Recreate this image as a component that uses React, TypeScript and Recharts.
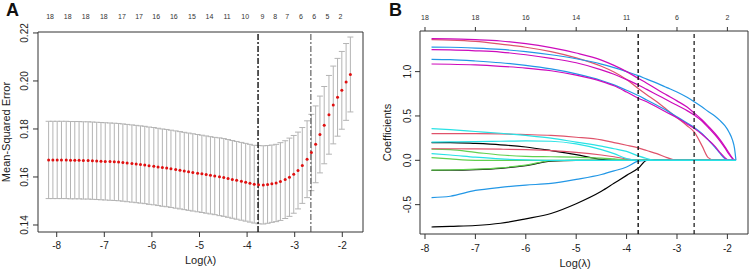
import { ComposedChart, LineChart, Line, Scatter, ErrorBar, XAxis, YAxis, ReferenceLine, ReferenceArea } from "recharts";

const FONT = "'Liberation Sans', Arial, Helvetica, sans-serif";

// ---- Panel A: cross-validated error ----
const cvLogLambda = [
  -8.17, -8.08, -7.99, -7.90, -7.80, -7.71, -7.62, -7.53, -7.44, -7.34,
  -7.25, -7.16, -7.07, -6.98, -6.88, -6.79, -6.70, -6.61, -6.52, -6.42,
  -6.33, -6.24, -6.15, -6.06, -5.96, -5.87, -5.78, -5.69, -5.60, -5.50,
  -5.41, -5.32, -5.23, -5.14, -5.04, -4.95, -4.86, -4.77, -4.68, -4.58,
  -4.49, -4.40, -4.31, -4.22, -4.12, -4.03, -3.94, -3.85, -3.76, -3.66,
  -3.57, -3.48, -3.39, -3.30, -3.20, -3.11, -3.02, -2.93, -2.84, -2.74,
  -2.65, -2.56, -2.47, -2.38, -2.28, -2.19, -2.10, -2.01, -1.92, -1.83,
];
const cvMse = [
  0.1671, 0.1671, 0.1671, 0.1671, 0.1671, 0.1670, 0.1670, 0.1670, 0.1669, 0.1669,
  0.1668, 0.1667, 0.1666, 0.1665, 0.1664, 0.1663, 0.1662, 0.1660, 0.1658, 0.1656,
  0.1654, 0.1652, 0.1650, 0.1647, 0.1645, 0.1642, 0.1639, 0.1637, 0.1634, 0.1631,
  0.1628, 0.1625, 0.1622, 0.1619, 0.1616, 0.1613, 0.1610, 0.1607, 0.1604, 0.1601,
  0.1598, 0.1594, 0.1590, 0.1586, 0.1582, 0.1578, 0.1574, 0.1570, 0.1568, 0.1567,
  0.1569, 0.1572, 0.1575, 0.1581, 0.1589, 0.1599, 0.1611, 0.1627, 0.1648, 0.1674,
  0.1702, 0.1736, 0.1777, 0.1816, 0.1859, 0.1900, 0.1932, 0.1961, 0.1996, 0.2027,
];
const cvSd = [
  0.0161, 0.0161, 0.0161, 0.0161, 0.0161, 0.0161, 0.0161, 0.0161, 0.0161, 0.0161,
  0.0161, 0.0161, 0.0161, 0.0161, 0.0161, 0.0161, 0.0161, 0.0161, 0.0161, 0.0161,
  0.0161, 0.0161, 0.0161, 0.0161, 0.0161, 0.0161, 0.0161, 0.0161, 0.0161, 0.0161,
  0.0161, 0.0161, 0.0161, 0.0161, 0.0161, 0.0161, 0.0161, 0.0161, 0.0161, 0.0162,
  0.0162, 0.0162, 0.0162, 0.0162, 0.0162, 0.0162, 0.0162, 0.0162, 0.0163, 0.0163,
  0.0162, 0.0161, 0.0161, 0.0162, 0.0162, 0.0163, 0.0162, 0.0160, 0.0158, 0.0160,
  0.0159, 0.0160, 0.0160, 0.0161, 0.0164, 0.0162, 0.0162, 0.0162, 0.0160, 0.0156,
];
const cvTopTicks = [
  -8.14, -7.77, -7.39, -7.01, -6.63, -6.27, -5.91, -5.54, -5.16, -4.79,
  -4.42, -4.04, -3.68, -3.41, -3.16, -2.87, -2.59, -2.31, -2.04,
];
const cvTopLabels = ["18", "18", "18", "18", "17", "17", "16", "16", "15", "14", "11", "10", "9", "8", "7", "6", "6", "5", "2"];
const cvXTicks = [-8, -7, -6, -5, -4, -3, -2];
const cvYTicks = [0.14, 0.16, 0.18, 0.2, 0.22];
const lambdaMin = -3.77;
const lambda1se = -2.66;

// ---- Panel B: coefficient paths ----
const pathLogLambda = [
  -7.87, -7.5, -7.0, -6.5, -6.0, -5.5, -5.0, -4.5, -4.25, -4.0,
  -3.77, -3.6, -3.4, -3.2, -3.0, -2.8, -2.66, -2.5, -2.38, -2.25,
  -2.15, -2.05, -1.97, -1.9, -1.86, -1.83,
];
const coefT1 = [1.372, 1.370, 1.360, 1.345, 1.315, 1.270, 1.210, 1.130, 1.070, 1.000, 0.925, 0.870, 0.800, 0.735, 0.670, 0.600, 0.535, 0.455, 0.385, 0.305, 0.235, 0.155, 0.085, 0.025, 0, 0];
const coefT2 = [1.277, 1.275, 1.265, 1.250, 1.225, 1.190, 1.145, 1.085, 1.045, 1.000, 0.955, 0.915, 0.870, 0.820, 0.770, 0.710, 0.660, 0.600, 0.550, 0.500, 0.450, 0.390, 0.320, 0.230, 0.140, 0];
const coefT3 = [1.360, 1.355, 1.340, 1.310, 1.275, 1.225, 1.155, 1.060, 0.995, 0.910, 0.810, 0.740, 0.660, 0.570, 0.480, 0.390, 0.320, 0.160, 0.030, 0, 0, 0, 0, 0, 0, 0];
const coefT4 = [1.248, 1.245, 1.235, 1.220, 1.190, 1.150, 1.100, 1.020, 0.970, 0.910, 0.850, 0.800, 0.740, 0.680, 0.620, 0.560, 0.510, 0.440, 0.370, 0.290, 0.220, 0.140, 0.070, 0.020, 0, 0];
const coefT5 = [1.139, 1.135, 1.120, 1.100, 1.070, 1.030, 0.975, 0.900, 0.850, 0.790, 0.730, 0.680, 0.620, 0.560, 0.490, 0.420, 0.370, 0.300, 0.230, 0.150, 0.080, 0.020, 0, 0, 0, 0];
const coefT6 = [1.086, 1.083, 1.075, 1.060, 1.040, 1.010, 0.960, 0.890, 0.840, 0.770, 0.700, 0.660, 0.600, 0.540, 0.480, 0.410, 0.360, 0.290, 0.230, 0.160, 0.090, 0.030, 0, 0, 0, 0];
const coefL1 = [0.357, 0.345, 0.325, 0.305, 0.280, 0.250, 0.205, 0.160, 0.130, 0.100, 0.050, 0.020, 0, 0, 0, 0, 0, 0, 0, 0, 0, 0, 0, 0, 0, 0];
const coefL2 = [0.300, 0.300, 0.300, 0.298, 0.290, 0.280, 0.260, 0.230, 0.200, 0.170, 0.140, 0.110, 0.075, 0.030, 0, 0, 0, 0, 0, 0, 0, 0, 0, 0, 0, 0];
const coefL3 = [0.205, 0.207, 0.210, 0.215, 0.220, 0.215, 0.185, 0.120, 0.075, 0.020, 0, 0, 0, 0, 0, 0, 0, 0, 0, 0, 0, 0, 0, 0, 0, 0];
const coefL4 = [0.200, 0.200, 0.190, 0.175, 0.150, 0.110, 0.065, 0.010, 0, 0, 0, 0, 0, 0, 0, 0, 0, 0, 0, 0, 0, 0, 0, 0, 0, 0];
const coefL5 = [0.130, 0.130, 0.128, 0.125, 0.120, 0.110, 0.090, 0.060, 0.040, 0.015, 0, 0, 0, 0, 0, 0, 0, 0, 0, 0, 0, 0, 0, 0, 0, 0];
const coefL6 = [0.125, 0.120, 0.090, 0.060, 0.045, 0.040, 0.035, 0.025, 0.015, 0.005, 0, 0, 0, 0, 0, 0, 0, 0, 0, 0, 0, 0, 0, 0, 0, 0];
const coefL7 = [0.075, 0.060, 0.035, 0.015, 0.005, 0, 0, 0, 0, 0, 0, 0, 0, 0, 0, 0, 0, 0, 0, 0, 0, 0, 0, 0, 0, 0];
const coefL8 = [-0.113, -0.112, -0.105, -0.090, -0.060, -0.010, 0, 0, 0, 0, 0, 0, 0, 0, 0, 0, 0, 0, 0, 0, 0, 0, 0, 0, 0, 0];
const coefL9 = [-0.110, -0.108, -0.100, -0.085, -0.055, -0.005, 0, 0, 0, 0, 0, 0, 0, 0, 0, 0, 0, 0, 0, 0, 0, 0, 0, 0, 0, 0];
const coefL10 = [-0.420, -0.405, -0.340, -0.305, -0.280, -0.260, -0.215, -0.160, -0.120, -0.075, -0.010, 0, 0, 0, 0, 0, 0, 0, 0, 0, 0, 0, 0, 0, 0, 0];
const coefL11 = [-0.752, -0.745, -0.735, -0.710, -0.660, -0.600, -0.490, -0.350, -0.260, -0.170, -0.090, 0, 0, 0, 0, 0, 0, 0, 0, 0, 0, 0, 0, 0, 0, 0];
const coefL12 = [0.030, 0.015, 0, 0, 0, 0, 0, 0, 0, 0, 0, 0, 0, 0, 0, 0, 0, 0, 0, 0, 0, 0, 0, 0, 0, 0];
const pathXTicks = [-8, -7, -6, -5, -4, -3, -2];
const pathTopLabels = ["18", "18", "16", "14", "11", "6", "2"];
const pathYTicks = [-0.5, 0, 0.5, 1];

const BLACK = "#000000";
const PINK = "#DF536B";
const GREEN = "#61D04F";
const BLUE = "#2297E6";
const CYAN = "#28E2E5";
const MAGENTA = "#CD0BBC";

// drawing order: later entries end up on top
const pathSeries = [
  { key: "l11", color: BLACK, values: coefL11 },
  { key: "l8", color: BLACK, values: coefL8 },
  { key: "l9", color: GREEN, values: coefL9 },
  { key: "l4", color: BLACK, values: coefL4 },
  { key: "l6", color: GREEN, values: coefL6 },
  { key: "l12", color: GREEN, values: coefL12 },
  { key: "l5", color: PINK, values: coefL5 },
  { key: "l2", color: PINK, values: coefL2 },
  { key: "t3", color: PINK, values: coefT3 },
  { key: "l10", color: BLUE, values: coefL10 },
  { key: "t5", color: BLUE, values: coefT5 },
  { key: "t2", color: BLUE, values: coefT2 },
  { key: "t6", color: MAGENTA, values: coefT6 },
  { key: "t4", color: MAGENTA, values: coefT4 },
  { key: "t1", color: MAGENTA, values: coefT1 },
  { key: "l7", color: CYAN, values: coefL7 },
  { key: "l3", color: CYAN, values: coefL3 },
  { key: "l1", color: CYAN, values: coefL1 },
];

const cvData = cvLogLambda.map((x, i) => ({ x, mse: cvMse[i], err: cvSd[i] }));
const pathData = pathLogLambda.map((x, i) => {
  const row: Record<string, number> = { x };
  pathSeries.forEach((s) => (row[s.key] = s.values[i]));
  return row;
});

const A_X: [number, number] = [-8.393, -1.565];
const A_Y: [number, number] = [0.13708, 0.2204];
const B_X: [number, number] = [-8.099, -1.591];
const B_Y: [number, number] = [-0.831, 1.458];

const INK = "#222";

const BottomTick = (props: any) => {
  const { x, y, payload, off } = props;
  return (
    <text x={x} y={y + off} textAnchor="middle" fontSize={10} fontFamily={FONT} fill={INK}>
      {String(payload.value)}
    </text>
  );
};

const LeftTick = (props: any) => {
  const { x, y, payload, off, digits } = props;
  const tx = x + off;
  return (
    <text x={tx} y={y} transform={`rotate(-90, ${tx}, ${y})`} textAnchor="middle" fontSize={10} fontFamily={FONT} fill={INK}>
      {Number(payload.value).toFixed(digits)}
    </text>
  );
};

const TopTick = (props: any) => {
  const { x, y, payload, off, ticks, labels } = props;
  const i = ticks.indexOf(payload.value);
  return (
    <text x={x} y={y + off} textAnchor="middle" fontSize={7} fontFamily={FONT} fill="#333">
      {i >= 0 ? labels[i] : ""}
    </text>
  );
};

const xTitle = (dx: number, dy: number) => (props: any) => {
  const vb = props.viewBox;
  return (
    <text x={vb.x + vb.width / 2 + dx} y={vb.y + dy} textAnchor="middle" fontSize={11} fontFamily={FONT} fill={INK}>
      Log(λ)
    </text>
  );
};

const yTitle = (text: string, bx: number) => (props: any) => {
  const vb = props.viewBox;
  const cy = vb.y + vb.height / 2;
  return (
    <text x={bx} y={cy} transform={`rotate(-90, ${bx}, ${cy})`} textAnchor="middle" fontSize={11} fontFamily={FONT} fill={INK}>
      {text}
    </text>
  );
};

const RedDot = (props: any) => <circle cx={props.cx} cy={props.cy} r={1.5} fill="#e01010" />;

export default function App() {
  return (
    <div style={{ position: "absolute", left: 0, top: 0, width: 753, height: 275, background: "#fff" }}>
      <div style={{ position: "absolute", left: 0, top: 0 }}>
        <ComposedChart width={375} height={275} data={cvData} margin={{ top: 0, right: 12, bottom: 0, left: 0 }}>
          <XAxis
            xAxisId="b"
            type="number"
            dataKey="x"
            domain={A_X}
            allowDataOverflow
            ticks={cvXTicks}
            interval={0}
            axisLine={false}
            tickSize={5}
            tickMargin={0}
            height={43}
            stroke="#333"
            tick={<BottomTick off={12.3} />}
            label={xTitle(0, 31.5)}
          />
          <XAxis
            xAxisId="t"
            orientation="top"
            type="number"
            dataKey="x"
            domain={A_X}
            allowDataOverflow
            ticks={cvTopTicks}
            interval={0}
            axisLine={false}
            tickLine={false}
            tickSize={0}
            tickMargin={0}
            height={32}
            tick={<TopTick off={-12.8} ticks={cvTopTicks} labels={cvTopLabels} />}
          />
          <YAxis
            yAxisId="l"
            type="number"
            domain={A_Y}
            allowDataOverflow
            ticks={cvYTicks}
            interval={0}
            axisLine={false}
            tickSize={5}
            tickMargin={0}
            width={38}
            stroke="#333"
            tick={<LeftTick off={-5} digits={2} />}
            label={yTitle("Mean-Squared Error", 9.5)}
          />
          <ReferenceArea xAxisId="b" yAxisId="l" x1={A_X[0]} x2={A_X[1]} y1={A_Y[0]} y2={A_Y[1]} fill="none" stroke="#333" strokeWidth={1} ifOverflow="visible" />
          <Scatter xAxisId="b" yAxisId="l" dataKey="mse" shape={RedDot} isAnimationActive={false}>
            <ErrorBar dataKey="err" direction="y" width={3} stroke="#b4b4b4" strokeWidth={1} />
          </Scatter>
          <ReferenceLine xAxisId="b" yAxisId="l" x={lambdaMin} stroke="#111" strokeWidth={1.4} strokeDasharray="6 2 2 2" />
          <ReferenceLine xAxisId="b" yAxisId="l" x={lambda1se} stroke="#444" strokeWidth={1} strokeDasharray="6 2 2 2" />
        </ComposedChart>
      </div>

      <div style={{ position: "absolute", left: 375, top: 0 }}>
        <LineChart width={378} height={275} data={pathData} margin={{ top: 0, right: 5, bottom: 0, left: 0 }}>
          <XAxis
            xAxisId="b"
            type="number"
            dataKey="x"
            domain={B_X}
            allowDataOverflow
            ticks={pathXTicks}
            interval={0}
            axisLine={false}
            tickSize={5}
            tickMargin={0}
            height={41}
            stroke="#333"
            tick={<BottomTick off={13.3} />}
            label={xTitle(-9, 32.5)}
          />
          <XAxis
            xAxisId="t"
            orientation="top"
            type="number"
            dataKey="x"
            domain={B_X}
            allowDataOverflow
            ticks={pathXTicks}
            interval={0}
            axisLine={false}
            tickSize={4}
            tickMargin={0}
            height={31}
            stroke="#333"
            tick={<TopTick off={-7.2} ticks={pathXTicks} labels={pathTopLabels} />}
          />
          <YAxis
            yAxisId="l"
            type="number"
            domain={B_Y}
            allowDataOverflow
            ticks={pathYTicks}
            interval={0}
            axisLine={false}
            tickSize={5}
            tickMargin={0}
            width={45}
            stroke="#333"
            tick={<LeftTick off={-4} digits={1} />}
            label={yTitle("Coefficients", 16)}
          />
          <ReferenceArea xAxisId="b" yAxisId="l" x1={B_X[0]} x2={B_X[1]} y1={B_Y[0]} y2={B_Y[1]} fill="none" stroke="#333" strokeWidth={1} ifOverflow="visible" />
          {pathSeries.map((s) => (
            <Line
              key={s.key}
              xAxisId="b"
              yAxisId="l"
              type="monotone"
              dataKey={s.key}
              stroke={s.color}
              strokeWidth={1.2}
              dot={false}
              activeDot={false}
              isAnimationActive={false}
            />
          ))}
          <ReferenceLine xAxisId="b" yAxisId="l" x={lambdaMin} stroke="#111" strokeWidth={1.4} strokeDasharray="4 3" />
          <ReferenceLine xAxisId="b" yAxisId="l" x={lambda1se} stroke="#111" strokeWidth={1.2} strokeDasharray="4 3" />
        </LineChart>
      </div>

      <svg width={753} height={275} style={{ position: "absolute", left: 0, top: 0, pointerEvents: "none" }}>
        <text x={6} y={15.5} fontSize={18} fontWeight="bold" fontFamily={FONT} fill="#111">A</text>
        <text x={389} y={15.5} fontSize={18} fontWeight="bold" fontFamily={FONT} fill="#111">B</text>
      </svg>
    </div>
  );
}
